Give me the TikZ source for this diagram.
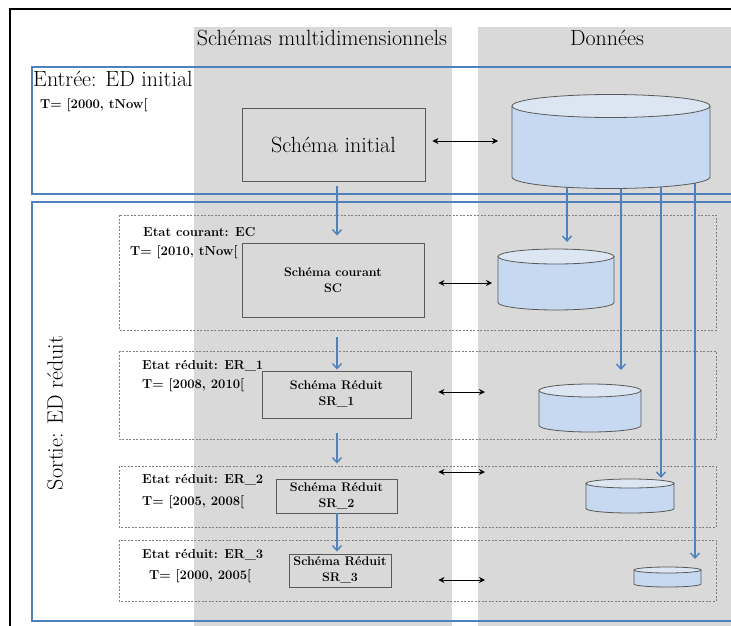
\documentclass[tikz,border=0pt]{standalone}
\usetikzlibrary{arrows.meta}
\definecolor{colgray}{HTML}{D9D9D9}
\definecolor{bblue}{HTML}{4F81BD}
\definecolor{dgray}{HTML}{595959}
\definecolor{cylbody}{HTML}{C6D9F1}
\definecolor{cyltop}{HTML}{DCE6F2}
\definecolor{dashgray}{HTML}{7F7F7F}
\newcommand\drawcyl[6]{% name, cx, ytop, ybot, rx, ry
  \node[inner sep=0pt, outer sep=0pt, minimum width={2*#5*1pt}, minimum height={(#4-#3+2*#6)*1pt}] (#1) at (#2,{(#3+#4)/2}) {};
  \fill[cylbody] (#2-#5,#3) -- (#2-#5,#4) arc[start angle=180, end angle=360, x radius=#5pt, y radius=#6pt] -- (#2+#5,#3) -- cycle;
  \draw[dgray, line width=0.8pt] (#2-#5,#3) -- (#2-#5,#4) arc[start angle=180, end angle=360, x radius=#5pt, y radius=#6pt] -- (#2+#5,#3);
  \filldraw[fill=cyltop, draw=dgray, line width=0.8pt] (#2,#3) ellipse [x radius=#5pt, y radius=#6pt];
}
\tikzset{
  bigfont/.style={font=\fontsize{22}{26}\selectfont},
  smallbold/.style={font=\fontsize{13}{15}\selectfont\bfseries, anchor=west, inner sep=0pt},
  schbox/.style={draw=dgray, line width=0.9pt, fill=colgray, inner sep=0pt, align=center, font=\fontsize{12.5}{16}\selectfont\bfseries},
  bluebox/.style={draw=bblue, line width=2pt},
  dbox/.style={draw=dashgray, line width=0.6pt, dash pattern=on 2pt off 1.5pt},
  barrow/.style={draw=bblue, line width=1.4pt, -{Straight Barb[length=5pt,width=9pt]}},
  darrow/.style={draw=black, line width=1pt, {Stealth[length=6pt,width=6pt]}-{Stealth[length=6pt,width=6pt]}},
}
\begin{document}
\begin{tikzpicture}[x=1pt, y=-1pt]
\useasboundingbox (0,0) rectangle (731,626);
\clip (0,0) rectangle (731,626);
\fill[white] (0,0) rectangle (731,626);
% outer frame
\draw[black, line width=1.2pt] (10,640) -- (10,9) -- (740,9);
% columns
\fill[colgray] (194,27) rectangle (452,640);
\fill[colgray] (478,27) rectangle (740,640);
\node[bigfont] (h1) at (322,38) {Schémas multidimensionnels};
\node[bigfont] (h2) at (607,38) {Données};
% blue frames
\draw[bluebox] (32,67) rectangle (745,194);
\draw[bluebox] (32,202) rectangle (745,621);
\node[bigfont, anchor=west, inner sep=0pt] (entree) at (33,79) {Entrée: ED initial};
\node[smallbold] (t0) at (40,105) {T= [2000, tNow[};
\node[bigfont, rotate=90] (sortie) at (55,413) {Sortie: ED réduit};
% dashed state frames
\draw[dbox] (119,215) rectangle (716,330);
\draw[dbox] (119,351) rectangle (716,439);
\draw[dbox] (119,466) rectangle (716,527);
\draw[dbox] (119,540) rectangle (716,601);
% state labels
\node[smallbold] (ec) at (143,232) {Etat courant: EC};
\node[smallbold] (t1) at (130,252) {T= [2010, tNow[};
\node[smallbold] (er1) at (142,366) {Etat réduit: ER\_1};
\node[smallbold] (t2) at (142,385) {T= [2008, 2010[};
\node[smallbold] (er2) at (142,480) {Etat réduit: ER\_2};
\node[smallbold] (t3) at (142,502) {T= [2005, 2008[};
\node[smallbold] (er3) at (142,555) {Etat réduit: ER\_3};
\node[smallbold] (t4) at (149,576) {T= [2000, 2005[};
% schema boxes
\node[schbox, font=\fontsize{22}{26}\selectfont, minimum width=183pt, minimum height=73pt] (init) at (333.5,144.5) {Schéma initial};
\node[schbox, minimum width=182pt, minimum height=74pt] (sc) at (333,280) {Schéma courant\\SC};
\node[schbox, minimum width=149pt, minimum height=47pt] (sr1) at (336.5,394.5) {Schéma Réduit\\SR\_1};
\node[schbox, minimum width=121pt, minimum height=34pt] (sr2) at (336.5,496) {Schéma Réduit\\SR\_2};
\node[schbox, minimum width=102pt, minimum height=33pt] (sr3) at (340,570.5) {Schéma Réduit\\SR\_3};
% schema arrows
\coordinate (ax) at (337,0);
\draw[barrow, shorten <=5pt, shorten >=7pt] (init.south -| ax) -- (sc.north -| ax);
\draw[barrow, shorten <=20pt, shorten >=1pt] (sc.south -| ax) -- (sr1.north -| ax);
\draw[barrow, shorten <=15pt, shorten >=15pt] (sr1.south -| ax) -- (sr2.north -| ax);
\draw[barrow, shorten >=2pt] (sr2.south -| ax) -- (sr3.north -| ax);
% data arrows (drawn before cylinders so the big one hides their starts)
\coordinate (d1) at (567,0);
\coordinate (d2) at (621,0);
\coordinate (d3) at (661,0);
\coordinate (d4) at (695,0);
\coordinate (db0c) at (611,150);
\coordinate (c1top) at (0,249);
\coordinate (c2top) at (0,384);
\coordinate (c3top) at (0,479);
\coordinate (c4top) at (0,567);
\draw[barrow, shorten >=7pt] (db0c -| d1) -- (c1top -| d1);
\draw[barrow, shorten >=14pt] (db0c -| d2) -- (c2top -| d2);
\draw[barrow, shorten >=1pt] (db0c -| d3) -- (c3top -| d3);
\draw[barrow, shorten >=8pt] (db0c -| d4) -- (c4top -| d4);
% cylinders
\drawcyl{db0}{611}{106}{177}{99}{11.5}
\drawcyl{db1}{556}{256.5}{302.5}{58}{7.5}
\drawcyl{db2}{590}{390.5}{425.5}{51}{6.5}
\drawcyl{db3}{630}{483.5}{508.5}{44}{4.5}
\drawcyl{db4}{667.5}{570}{584}{33.5}{3}
% double arrows
\draw[darrow, shorten <=7pt, shorten >=14pt] ([yshift=3.5pt]init.east) -- ([yshift=3.5pt]init.east -| db0.west);
\draw[darrow, shorten <=14pt, shorten >=6pt] ([yshift=-3pt]sc.east) -- ([yshift=-3pt]sc.east -| db1.west);
\draw[darrow, shorten <=27pt, shorten >=54pt] ([yshift=2.5pt]sr1.east) -- ([yshift=2.5pt]sr1.east -| db2.west);
\draw[darrow, shorten <=41pt, shorten >=101pt] ([yshift=24pt]sr2.east) -- ([yshift=24pt]sr2.east -| db3.west);
\draw[darrow, shorten <=47pt, shorten >=149pt] ([yshift=-9.5pt]sr3.east) -- ([yshift=-9.5pt]sr3.east -| db4.west);
\end{tikzpicture}
\end{document}
